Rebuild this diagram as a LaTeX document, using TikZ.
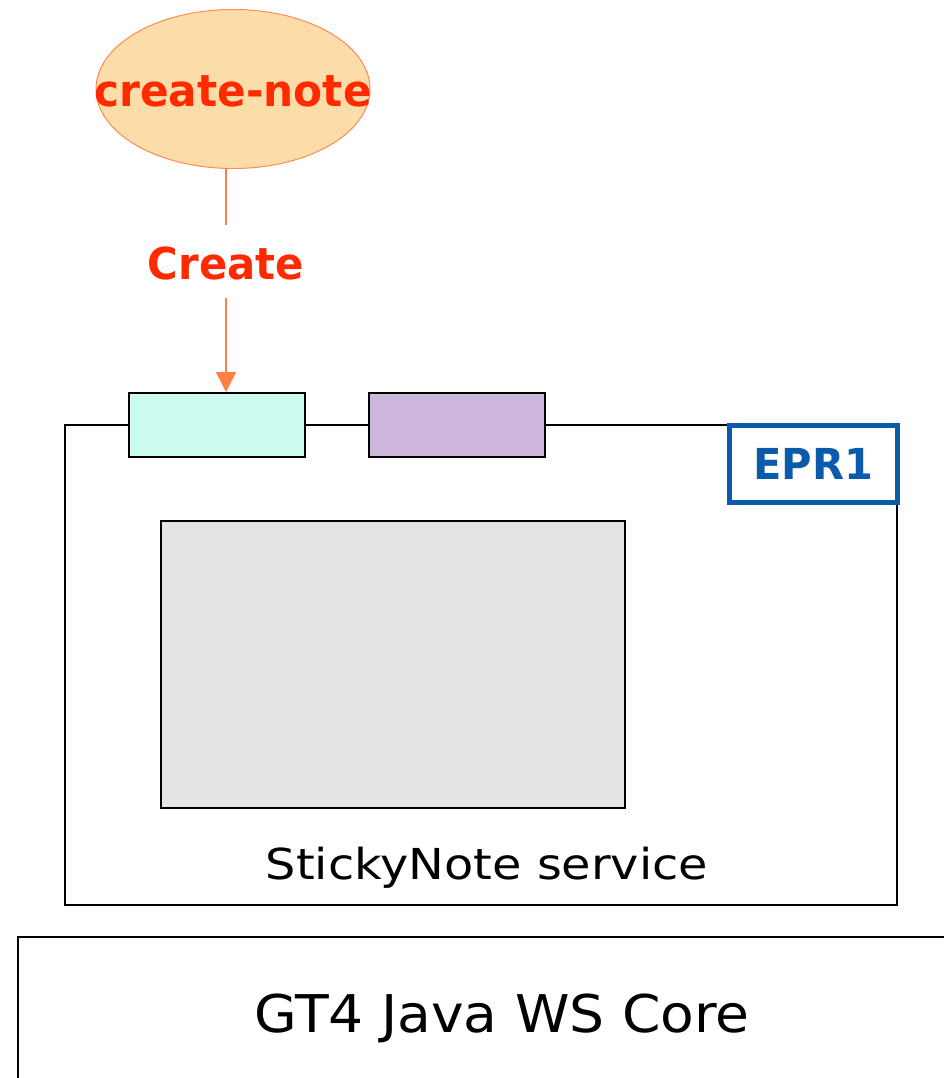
\documentclass[tikz,border=0pt]{standalone}
\usepackage{fontspec}
\setmainfont{DejaVu Sans}
\usetikzlibrary{shapes.geometric,arrows.meta}
\definecolor{ellfill}{HTML}{FCDDA9}
\definecolor{ellline}{HTML}{FF8A55}
\definecolor{txtred}{HTML}{FF2A00}
\definecolor{arrcol}{HTML}{FF7F45}
\definecolor{cyanfill}{HTML}{CCFCEF}
\definecolor{purpfill}{HTML}{CDB6DB}
\definecolor{grayfill}{HTML}{E4E4E4}
\definecolor{eprblue}{HTML}{0B5BAA}
\tikzset{
  px/.style={x=0.75pt,y=-0.75pt},
  blackbox/.style={draw=black,line width=1.5pt,inner sep=0pt,rectangle},
  redtxt/.style={text=txtred,font=\fontsize{33}{33}\selectfont\bfseries},
  conn/.style={draw=arrcol,line width=1.2pt},
}
\begin{document}
\begin{tikzpicture}[px]
\useasboundingbox (0,0) rectangle (943,1078);
% GT4 core box (extends past the right and bottom edges)
\draw[line width=1.6pt] (18,1090) -- (18,937) -- (960,937);
\node[anchor=base,font=\fontsize{39}{39}\selectfont] (core) at (502,1032) {\scalebox{1.06}[1]{GT4 Java WS Core}};
% service box
\node[blackbox,minimum width=832*0.75pt,minimum height=480*0.75pt] (svc) at (481,665) {};
\node[anchor=base,font=\fontsize{32}{32}\selectfont] (svctxt) at (487,879) {\scalebox{1.12}[1]{StickyNote service}};
% gray box
\node[blackbox,fill=grayfill,minimum width=464*0.75pt,minimum height=287*0.75pt] (gray) at (393,664.5) {};
% port boxes
\node[blackbox,fill=cyanfill,minimum width=176*0.75pt,minimum height=64*0.75pt] (cyan) at (217,425) {};
\node[blackbox,fill=purpfill,minimum width=176*0.75pt,minimum height=64*0.75pt] (purp) at (457,425) {};
% EPR1
\node[draw=eprblue,line width=3.75pt,fill=white,inner sep=0pt,minimum width=168.5*0.75pt,minimum height=77*0.75pt,
      text=eprblue,font=\fontsize{32}{32}\selectfont\bfseries] (epr) at (813.25,464) {\scalebox{0.975}[1]{EPR1}};
% create-note ellipse
\node[ellipse,draw=ellline,line width=0.75pt,fill=ellfill,inner sep=0pt,minimum width=274*0.75pt,minimum height=159*0.75pt] (ell) at (233,89) {};
\node[redtxt,anchor=base] (elltxt) at (233,106) {\scalebox{0.96}[1]{create-note}};
% Create label and arrow
\node[redtxt,anchor=base,inner ysep=0pt,text height=40.5pt,text depth=14.25pt] (crt) at (226,279) {\scalebox{0.95}[1]{Create}};
\draw[conn] (crt.north) -- (crt.north |- ell.south);
\draw[conn,-{Triangle[width=15pt,length=15pt]}] (crt.south) -- (crt.south |- cyan.north);
\end{tikzpicture}
\end{document}
